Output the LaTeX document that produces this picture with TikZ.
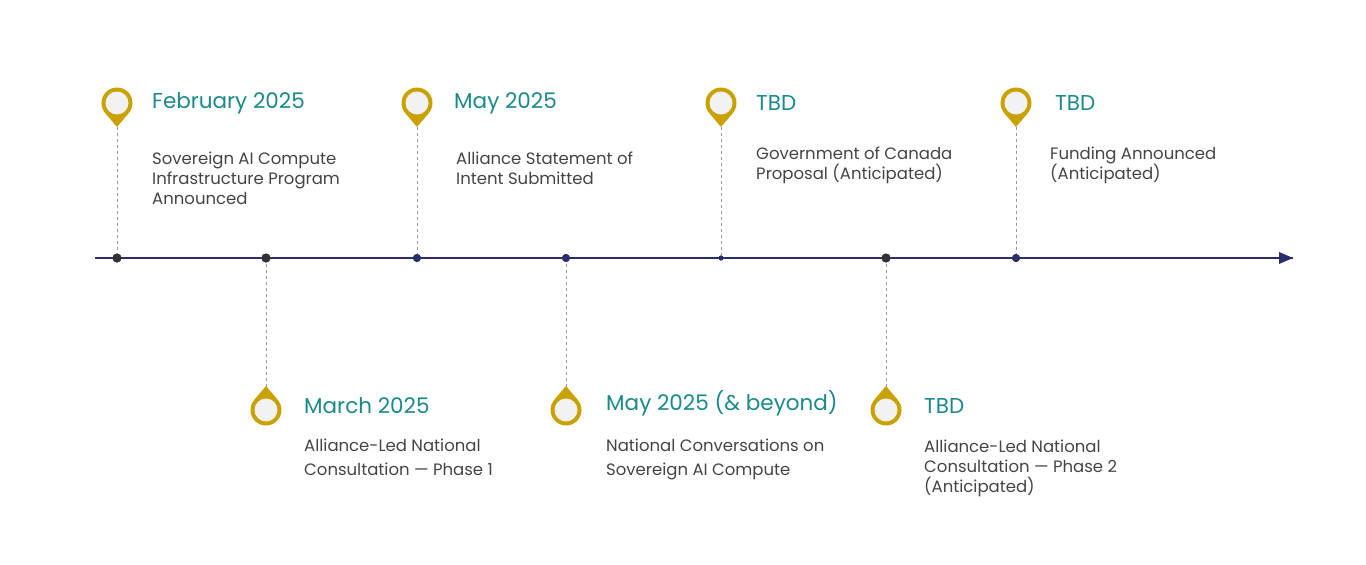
\documentclass[tikz,border=0pt]{standalone}
\usepackage{fontspec}
\setmainfont{Poppins}
\definecolor{gold}{HTML}{C9A200}
\definecolor{teal}{HTML}{1A8A8A}
\definecolor{navy}{HTML}{2A2F6B}
\definecolor{txt}{HTML}{444444}
\definecolor{pinin}{HTML}{F2F2F2}
\begin{document}
\begin{tikzpicture}[x=1pt,y=-1pt,
  title/.style={anchor=west,text=teal,font=\fontsize{21.5}{24}\selectfont,inner sep=0},
  desc/.style={anchor=north west,text=txt,font=\fontsize{16.5}{20}\selectfont,align=left,inner sep=0},
  descw/.style={desc,font=\fontsize{16.5}{24}\selectfont},
  stem/.style={draw=gray!80,dashed,line width=0.8pt},
  dotd/.style={circle,fill=black!80,inner sep=0,minimum size=9pt},
  dotn/.style={circle,fill=navy,inner sep=0,minimum size=8pt}]
\useasboundingbox (0,0) rectangle (1366,565);
\newcommand{\pinup}[2]{% circle center, tip below
  \fill[gold] (#1,#2) circle (15.5);
  \fill[gold] (#1-11,#2+11) -- (#1,#2+24) -- (#1+11,#2+11) -- cycle;
  \fill[pinin] (#1,#2) circle (11.5);}
\newcommand{\pindown}[2]{% circle center, tip above
  \fill[gold] (#1,#2) circle (15.5);
  \fill[gold] (#1-11,#2-11) -- (#1,#2-24) -- (#1+11,#2-11) -- cycle;
  \fill[pinin] (#1,#2) circle (11.5);}
\coordinate (s) at (95,258); \coordinate (e) at (1293,258);
\coordinate (p1) at (117,127); \node[dotd] (d1) at (117,258) {};
\coordinate (p2) at (266,387); \node[dotd] (d2) at (266,258) {};
\coordinate (p3) at (417,127); \node[dotn] (d3) at (417,258) {};
\coordinate (p4) at (566,387); \node[dotn] (d4) at (566,258) {};
\coordinate (p5) at (721,127); \node[dotn,minimum size=5pt] (d5) at (721,258) {};
\coordinate (p6) at (886,387); \node[dotd] (d6) at (886,258) {};
\coordinate (p7) at (1016,127); \node[dotn] (d7) at (1016,258) {};
\foreach \i in {1,...,7}{\draw[stem] (p\i) -- (d\i.center);}
\draw[navy,line width=1.5pt] (s) -- (e);
\fill[navy] (1293,258) -- (1279,252) -- (1279,264) -- cycle;
\node[dotd] at (d1) {};\node[dotd] at (d2) {};\node[dotd] at (d6) {};
\node[dotn] at (d3) {};\node[dotn] at (d4) {};\node[dotn,minimum size=5pt] at (d5) {};\node[dotn] at (d7) {};
\pinup{117}{103}\pinup{417}{103}\pinup{721}{103}\pinup{1016}{103}
\pindown{266}{410}\pindown{566}{410}\pindown{886}{410}
\node[title] (t1) at (152,103) {February 2025};
\node[desc] (x1) at (152,152) {Sovereign AI Compute\\Infrastructure Program\\Announced};
\node[title] (t2) at (304,406) {March 2025};
\node[descw] (x2) at (304,439) {Alliance-Led National\\Consultation — Phase 1};
\node[title] (t3) at (454,103) {May 2025};
\node[desc] (x3) at (456,152) {Alliance Statement of\\Intent Submitted};
\node[title] (t4) at (606,403) {May 2025 (\& beyond)};
\node[descw] (x4) at (606,439) {National Conversations on\\Sovereign AI Compute};
\node[title] (t5) at (756,103) {TBD};
\node[desc] (x5) at (756,147) {Government of Canada\\Proposal (Anticipated)};
\node[title] (t6) at (924,406) {TBD};
\node[desc] (x6) at (924,440) {Alliance-Led National\\Consultation — Phase 2\\(Anticipated)};
\node[title] (t7) at (1055,103) {TBD};
\node[desc] (x7) at (1050,147) {Funding Announced\\(Anticipated)};
\end{tikzpicture}
\end{document}
